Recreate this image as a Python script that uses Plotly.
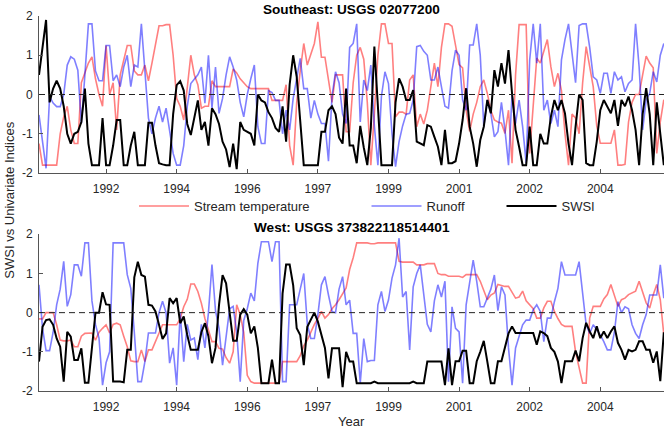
import plotly.graph_objects as go

# ---------------- data ----------------
months = list(range(1, 179))
tick_positions = [20, 40, 60, 80, 100, 120, 140, 160]
tick_labels = ["1992", "1994", "1996", "1997", "1999", "2001", "2002", "2004"]

se_title = "Southeast: USGS 02077200"
w_title = "West: USGS 373822118514401"

se_swsi = [0.5, 1.2, 1.9, -0.2, 0.15, 0.35, 0.15, -0.3, -1.0, -1.25,
           -1.0, -0.95, -0.7, 0.15, -1.25, -1.8, -1.8, -1.8, -0.6, -1.8,
           -1.8, -1.3, -0.65, -0.65, -1.8, -1.8, -1.3, -0.95, -1.8, -1.8,
           -1.8, -0.72, -0.72, -1.3, -1.75, -1.78, -1.8, -1.8, -0.5, 0.24,
           0.34, 0.1, -0.75, -1.03, -0.6, -0.15, -0.9, -0.7, -1.3, -0.35,
           -0.5, -0.75, -1.2, -1.4, -1.85, -1.25, -1.9, -0.7, -0.9, -0.95,
           -1.0, -1.3, 0.0, -0.15, -0.2, -0.45, -0.6, -0.85, -0.95, -0.3,
           -1.2, 0.25, 1.0, 0.45, -0.6, -1.8, -1.8, -1.8, -1.8, -1.8,
           -0.95, -0.95, -0.4, -0.3, -0.5, -1.1, -1.25, 0.15, -1.3, -1.3,
           -1.75, -0.8, -1.35, -1.8, -0.85, 1.22, -0.3, -1.8, -1.8, -1.8,
           -1.8, -0.2, 0.41, 0.2, -0.14, -0.14, 0.11, -1.2, -1.25, -1.29,
           -0.78, -0.82, -1.08, -1.33, -1.8, -0.9, -1.75, -1.75, -1.7, -1.25,
           -0.65, 0.16, -0.82, -1.25, -1.84, -1.16, -0.82, -0.14, -0.48, 0.62,
           0.2, 0.8, 0.28, 1.13, 0.03, -0.9, -1.33, -1.8, -1.8, -0.82,
           -1.8, -1.8, -1.0, -1.25, -1.25, -0.57, -0.14, -0.4, -0.14, -0.48,
           -1.25, -1.8, -0.82, 0.0, -0.14, -1.75, -1.8, -1.8, -1.2, -0.4,
           -0.14, -0.3, -0.48, -0.14, -0.8, -0.14, -0.3, -0.05, -0.4, -0.9,
           -1.8, -0.5, 0.16, -0.5, -1.8, -0.2, -1.0, -1.8]

se_temp = [-1.25, -1.8, -1.8, -1.8, -1.8, -1.8, -1.0, -0.57, -0.3, -0.9,
           -1.25, -1.25, 0.3, 0.54, 0.8, 0.96, 0.4, 0.0, -0.3, 1.25,
           0.0, 0.3, -0.9, 0.5, 0.9, 1.25, 1.25, 0.6, 0.5, 0.5,
           0.75, 0.35, 0.8, 1.3, 1.75, 1.75, 1.78, 1.78, 1.0, -0.1,
           -0.3, -0.65, 0.2, 1.0, 0.5, 0.25, -0.35, -0.3, -0.3, 0.35,
           0.2, 0.2, 0.2, 0.2, 0.2, 0.65, 0.55, 0.4, 0.3, 0.2,
           0.15, 0.15, 0.15, 0.15, 0.15, 0.15, -0.15, -0.15, -0.15, -0.15,
           0.25, -1.3, -1.8, -0.2, 0.6, 1.3, 0.75, 1.0, 1.3, 1.85,
           0.95, 0.95, 0.35, -0.2, 0.5, 0.5, 0.5, -0.95, -0.95, 0.3,
           1.0, 1.2, 0.9, -0.2, -1.8, -0.5, 1.0, 1.8, 1.8, 1.3,
           1.3, -0.57, -0.45, -0.45, -0.5, 0.37, 0.5, -0.82, -0.5, -0.75,
           -0.4, 0.2, 0.8, 0.2, 1.2, 1.8, 1.8, 1.74, 1.22, 0.76,
           0.68, -0.4, -0.94, -0.5, -0.2, 0.2, 0.37, 0.03, -0.4, -0.65,
           -0.7, -0.73, -0.99, -0.4, -1.75, 0.5, 1.78, 1.78, 1.78, -1.5,
           -0.2, 0.93, 0.8, 1.1, 1.4, 0.71, 0.2, 0.54, 0.1, -1.0,
           -1.8, -0.5, -0.6, -1.0, 0.3, 1.22, 0.7, 0.2, -0.8, -1.24,
           -1.24, -1.24, -1.24, -0.9, -1.8, -1.8, -1.78, -0.7, -0.2, 0.0,
           0.0, 0.5, 0.98, 0.8, 0.68, -1.5, -0.7, -0.13]

se_runoff = [-0.52, -1.2, -1.88, -0.05, -0.22, -0.31, -0.31, 0.0, 0.75, 0.96,
             0.9, 0.62, -0.74, 0.5, 1.8, 1.8, 0.6, 0.35, 0.35, 1.25,
             1.25, 0.35, 0.5, 0.2, 0.7, 1.0, 0.2, 0.75, 0.7, 1.8,
             0.6, -0.6, -1.0, -0.6, -0.3, -0.7, -0.35, -0.9, -1.5, -1.8,
             -1.8, -1.3, -0.3, 0.28, 0.4, 0.5, 0.7, -0.22, 1.0, -0.35,
             0.7, -0.48, -0.1, 0.5, 0.96, 0.7, 0.37, -0.2, -0.57, 0.0,
             0.4, 0.75, -0.82, -1.25, -1.25, 0.1, 0.05, -0.15, -0.15, -1.0,
             -0.4, -0.9, -0.1, 0.4, 0.92, 0.15, 0.15, -0.6, -0.15, -0.5,
             -0.74, -0.74, -1.7, -0.05, 0.58, 0.3, -0.5, -0.74, 1.2, 1.3,
             1.8, -0.7, 0.37, 0.1, 0.75, -0.8, -1.8, -0.05, 0.58, 0.28,
             -1.0, -1.84, -1.2, -0.8, -0.5, -0.48, -0.14, 1.22, 1.25, 1.1,
             1.0, 0.37, 0.37, 0.7, 0.2, -0.3, -0.35, 0.6, 1.13, 1.0,
             -0.14, -0.4, 1.26, 1.26, 1.8, 1.0, -0.82, -0.14, -0.48, -1.08,
             -0.95, -0.2, -0.9, -1.8, 0.0, -0.74, -0.14, -0.82, -1.75, 0.88,
             1.8, 0.8, 1.8, -0.4, -0.14, -0.74, -0.4, -0.82, 0.88, 1.4,
             1.8, 1.0, 0.3, 1.76, 1.8, 1.8, 1.2, 0.45, 0.37, 0.03,
             0.54, 0.54, 0.03, 0.58, 0.37, 0.45, 0.07, 0.28, 0.37, 1.8,
             0.7, -0.9, -0.14, 0.03, 0.58, 0.32, 1.0, 1.3]

w_swsi = [-1.25, -0.36, -0.19, -0.17, -0.31, -0.66, -0.87, -1.76, -0.49, -0.61,
          -1.21, -1.21, -0.91, -1.79, -1.79, -0.9, 0.0, 0.0, 0.52, 0.21,
          0.2, -1.76, -1.76, -1.76, -1.78, -0.95, -0.95, 0.9, 1.3, 0.96,
          0.92, 0.2, 0.18, 0.03, -0.31, -0.67, -0.53, 0.37, 0.24, 0.37,
          -0.27, -0.1, -0.57, -0.95, -0.95, -0.95, -0.5, -0.27, -0.6, -1.29,
          -0.9, 0.2, 0.96, 0.75, 0.0, -0.72, -0.72, -0.05, 0.09, -0.05,
          -0.53, -0.35, -0.9, -1.8, -1.8, -1.8, -1.2, -1.8, -1.8, 0.49,
          1.23, 1.23, 0.7, -0.4, -0.57, -1.34, -0.36, -0.19, 0.0, -0.23,
          -0.57, -0.9, -1.68, -0.91, -0.91, -0.91, -1.9, -1.0, -1.25, -1.25,
          -1.8, -1.8, -1.8, -1.8, -1.8, -1.76, -1.8, -1.8, -1.8, -1.8,
          -1.8, -1.8, -1.8, -1.8, -1.8, -1.8, -1.76, -1.8, -1.8, -1.8,
          -1.25, -1.25, -1.25, -1.25, -1.25, -1.85, -0.91, -1.85, -1.24, -1.24,
          -0.97, -0.97, -1.8, -1.8, -1.24, -1.0, -0.72, -1.25, -1.8, -1.8,
          -1.24, -1.24, -0.91, -0.53, -0.35, -0.52, -0.52, -0.52, -0.52, -0.52,
          -0.52, -0.82, -0.48, -0.52, -0.6, -0.9, -1.0, -1.25, -1.8, -1.24,
          -1.24, -1.24, -0.97, -1.24, -0.65, -0.26, -0.48, -0.65, -0.35, -0.65,
          -0.48, -0.65, -0.48, -0.35, -0.77, -0.95, -1.2, -0.95, -0.99, -0.95,
          -0.73, -0.73, -0.95, -0.95, -1.28, -0.99, -1.75, -0.5]

w_temp = [-0.16, -0.16, 0.0, 0.0, 0.0, -0.31, -0.7, -0.72, -0.72, -0.7,
          -0.87, -0.87, -0.6, -0.53, -0.52, -0.52, -0.7, -0.5, -0.4, -0.31,
          -0.52, -0.3, -0.27, -0.31, -0.6, -0.87, -1.23, -1.25, -1.25, -0.95,
          -1.25, -0.95, -0.95, -0.75, -0.53, -0.31, -0.31, -0.31, -0.31, -0.31,
          -0.15, 0.15, 0.34, 0.73, 0.73, 0.54, 0.24, -0.15, -0.44, -0.74,
          -0.74, -0.91, -0.93, -1.15, -1.29, -1.0, 0.2, -0.05, -0.5, -1.6,
          -1.76, -1.8, -1.8, -1.8, -1.8, -1.8, -1.8, -1.8, -1.8, -1.25,
          -1.25, -1.25, -1.25, -1.25, -1.1, -0.85, -0.7, -0.5, -0.3, -0.15,
          0.03, -0.14, -0.05, 0.1, 0.2, 0.33, 0.5, 0.63, 1.1, 1.4,
          1.78, 1.78, 1.78, 1.78, 1.76, 1.76, 1.78, 1.78, 1.78, 1.78,
          1.78, 1.78, 1.31, 1.29, 1.29, 1.29, 1.29, 1.22, 1.22, 1.22,
          1.25, 1.25, 1.25, 1.0, 0.97, 0.97, 0.93, 0.93, 0.93, 0.93,
          0.9, 0.97, 0.97, 0.97, 0.97, 0.8, 0.55, 0.33, 0.45, 0.5,
          0.72, 0.7, 0.67, 0.67, 0.5, 0.37, 0.4, 0.55, 0.3, 0.2,
          0.1, -0.14, -0.14, 0.12, 0.29, 0.29, 0.03, -0.15, -0.3, -0.35,
          -0.35, -0.35, -1.0, -1.41, -1.8, -1.8, -0.14, 0.16, 0.16, 0.16,
          0.35, 0.46, 0.72, 0.46, 0.16, 0.33, 0.37, 0.46, 0.5, 0.55,
          0.8, 0.5, 0.25, 0.12, 0.46, 0.72, 0.33, -0.56]

w_runoff = [0.71, -0.4, -0.97, -0.97, -0.5, 0.2, 0.6, 1.31, 0.16, 0.46,
            1.22, 1.22, 0.93, 1.78, 1.78, 0.3, -0.3, -0.65, -1.85, -1.28,
            -1.0, 1.78, 1.78, 1.78, 1.78, 0.97, 0.62, -0.5, -1.76, -1.76,
            -1.25, -0.52, -0.52, -0.52, 0.0, 0.29, 0.0, -1.29, -0.9, -1.85,
            0.0, -1.25, -0.3, -0.7, -0.65, -1.2, -0.3, -0.9, 0.0, 1.23,
            0.05, -0.4, -1.34, -0.6, 0.1, 0.16, -0.5, -1.76, -0.2, 0.1,
            0.5, 0.3, 1.26, 1.81, 1.81, 1.81, 1.3, 1.81, 1.81, -1.76,
            -1.76, 0.2, 0.2, 0.2, 0.6, 1.0, -0.3, -0.66, -0.66, -0.05,
            0.71, 0.92, 0.45, 0.03, 0.0, 0.6, 0.92, 0.2, 0.32, -0.53,
            -0.53, -1.8, -0.66, -1.25, -1.22, -1.22, 0.2, 0.54, 0.03, 0.32,
            0.88, 1.22, 1.9, 0.4, 0.54, -0.95, 0.66, 1.0, 1.22, 0.4,
            -0.3, -0.49, 0.3, 0.71, 0.4, 0.8, -1.76, 0.15, -0.4, -0.49,
            -1.8, 0.2, 0.8, 1.34, 0.8, 0.15, 0.15, 0.37, 0.6, 0.96,
            0.05, 0.66, 0.45, -0.9, -1.85, -0.9, -0.57, -0.31, -0.19, -0.19,
            0.07, 0.2, 0.03, -0.74, -0.14, -0.14, 0.28, 0.62, 1.3, 0.96,
            0.96, 0.96, 0.96, 1.3, 0.45, -0.31, -0.53, -0.31, -0.44, -0.57,
            -0.74, -0.95, -0.95, -0.5, 0.28, 0.0, 0.15, 0.1, -0.31, -0.53,
            -0.66, -0.31, -0.05, 0.45, 0.45, 0.45, 1.22, 0.37]

for name, arr in [("se_swsi", se_swsi), ("se_temp", se_temp), ("se_runoff", se_runoff),
                  ("w_swsi", w_swsi), ("w_temp", w_temp), ("w_runoff", w_runoff)]:
    assert len(arr) == len(months), (name, len(arr))

# ---------------- styling ----------------
FONT = "Liberation Sans, Arial, sans-serif"
RED = "rgba(255,0,0,0.5)"
BLUE = "rgba(0,0,255,0.5)"
BLACK = "#000000"
AX = "#555555"

fig = go.Figure()

panels = [("x", "y", se_temp, se_runoff, se_swsi, True),
          ("x2", "y2", w_temp, w_runoff, w_swsi, False)]

for xa, ya, temp, runoff, swsi, show in panels:
    fig.add_trace(go.Scatter(x=months, y=temp, mode="lines", name="Stream temperature",
                             line=dict(color=RED, width=1.6), xaxis=xa, yaxis=ya,
                             showlegend=show, legend="legend"))
    fig.add_trace(go.Scatter(x=months, y=runoff, mode="lines", name="Runoff",
                             line=dict(color=BLUE, width=1.6), xaxis=xa, yaxis=ya,
                             showlegend=show, legend="legend2"))
    fig.add_trace(go.Scatter(x=months, y=swsi, mode="lines", name="SWSI",
                             line=dict(color=BLACK, width=2), xaxis=xa, yaxis=ya,
                             showlegend=show, legend="legend3"))
    fig.add_shape(type="line", xref=xa + " domain", yref=ya, x0=0, x1=1, y0=0, y1=0,
                  line=dict(color="#222222", width=1, dash="6px,4px"), layer="above")

xcommon = dict(range=[1, 178.05], tickmode="array", tickvals=tick_positions,
               ticktext=tick_labels, showline=True, linecolor=AX, linewidth=1,
               ticks="inside", ticklen=4, tickcolor=AX, showgrid=False, zeroline=False,
               automargin=False,
               tickfont=dict(family=FONT, size=12, color="#262626"), ticklabelstandoff=5)
ycommon = dict(range=[-2, 2], tickmode="array", tickvals=[-2, -1, 0, 1, 2],
               ticktext=["-2", "-1", "0", "1", "2"], showline=True, linecolor=AX,
               linewidth=1, ticks="inside", ticklen=4, tickcolor=AX, showgrid=False,
               zeroline=False, automargin=False,
               tickfont=dict(family=FONT, size=12, color="#262626"),
               ticklabelstandoff=3)

fig.update_layout(
    template="none",
    width=666, height=430,
    margin=dict(l=39, r=2, t=16, b=39, autoexpand=False),
    paper_bgcolor="white", plot_bgcolor="white",
    font=dict(family=FONT, size=12, color="#262626"),
    xaxis=dict(domain=[0, 1], anchor="y", **xcommon),
    yaxis=dict(domain=[0.5813, 1], anchor="x", **ycommon),
    xaxis2=dict(domain=[0, 1], anchor="y2", **xcommon),
    yaxis2=dict(domain=[0, 0.4179], anchor="x2", **ycommon),
)

leg = dict(orientation="h", yanchor="middle", y=0.4933, xanchor="left",
           bgcolor="rgba(0,0,0,0)", borderwidth=0, itemwidth=50,
           font=dict(family=FONT, size=13, color="#262626"))
fig.update_layout(legend=dict(x=0.152, **leg),
                  legend2=dict(x=0.524, **leg),
                  legend3=dict(x=0.740, **leg))

fig.add_annotation(text="<b>" + se_title + "</b>", xref="paper", yref="paper",
                   x=0.5, y=1.0173, xanchor="center", yanchor="middle", showarrow=False,
                   font=dict(family=FONT, size=13.6, color="#000000"))
fig.add_annotation(text="<b>" + w_title + "</b>", xref="paper", yref="paper",
                   x=0.5, y=0.436, xanchor="center", yanchor="middle", showarrow=False,
                   font=dict(family=FONT, size=13.6, color="#000000"))
fig.add_annotation(text="Year", xref="paper", yref="paper", x=0.5, y=-0.08,
                   xanchor="center", yanchor="middle", showarrow=False,
                   font=dict(family=FONT, size=13, color="#262626"))
fig.add_annotation(text="SWSI vs Univariate Indices", xref="paper", yref="paper",
                   x=-0.0472, y=0.509, xanchor="center", yanchor="middle",
                   textangle=-90, showarrow=False,
                   font=dict(family=FONT, size=13, color="#262626"))

fig.write_html("out.html", config={"displayModeBar": False},
               post_script="document.body.style.margin='0px';")
